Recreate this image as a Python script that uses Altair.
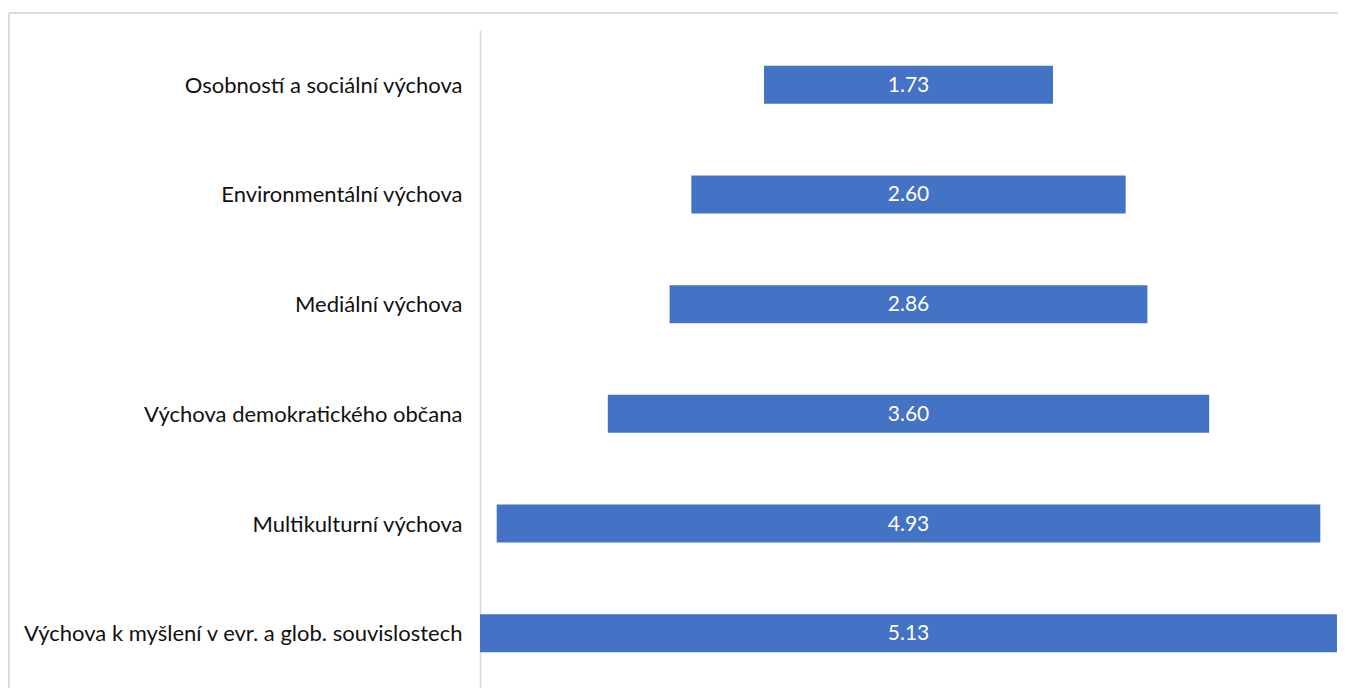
import altair as alt
import pandas as pd

categories = [
    "Osobností a sociální výchova",
    "Environmentální výchova",
    "Mediální výchova",
    "Výchova demokratického občana",
    "Multikulturní výchova",
    "Výchova k myšlení v evr. a glob. souvislostech",
]
values = [1.73, 2.60, 2.86, 3.60, 4.93, 5.13]

vmax = max(values)
df = pd.DataFrame({
    "cat": categories,
    "value": values,
})
df["start"] = (vmax - df["value"]) / 2
df["end"] = df["start"] + df["value"]
df["mid"] = df["start"] + df["value"] / 2
df["label"] = df["value"].map(lambda v: f"{v:.2f}")

FONT = "Lato"
W, H = 857, 658

xscale = alt.Scale(domain=[0, vmax], nice=False, zero=False)
yscale = alt.Scale(domain=categories, paddingInner=0.6535, paddingOuter=0.3267)

base = alt.Chart(df)

bars = base.mark_bar(color="#4472C4", cornerRadius=0).encode(
    x=alt.X("start:Q", scale=xscale, axis=None),
    x2="end:Q",
    y=alt.Y("cat:N", scale=yscale, sort=categories, title=None,
            axis=alt.Axis(ticks=False, domain=True, domainColor="#d9d9d9", domainWidth=1.5,
                          labelFont=FONT, labelFontSize=22, labelColor="#111111",
                          labelPadding=18, labelLimit=0, grid=False, labelOffset=1)),
)

texts = base.mark_text(color="white", font=FONT, fontSize=21, align="center", baseline="middle", dy=1).encode(
    x=alt.X("mid:Q", scale=xscale),
    y=alt.Y("cat:N", scale=yscale, sort=categories),
    text="label:N",
)

border = base.mark_rect(fill=None, stroke="#d9d9d9", strokeWidth=1).encode(
    x=alt.value(9 - 480), x2=alt.value(1346 - 480 + 20),
    y=alt.value(13 - 30), y2=alt.value(696 - 30 + 20),
)

chart = alt.layer(border, bars, texts).properties(
    width=W, height=H,
    background="white",
    autosize=alt.AutoSizeParams(type="none"),
    padding={"left": 472, "top": 22, "right": 1, "bottom": 0},
).configure_view(stroke=None, strokeWidth=0)

chart.save("out.html", embed_options={"renderer": "svg", "actions": False})
